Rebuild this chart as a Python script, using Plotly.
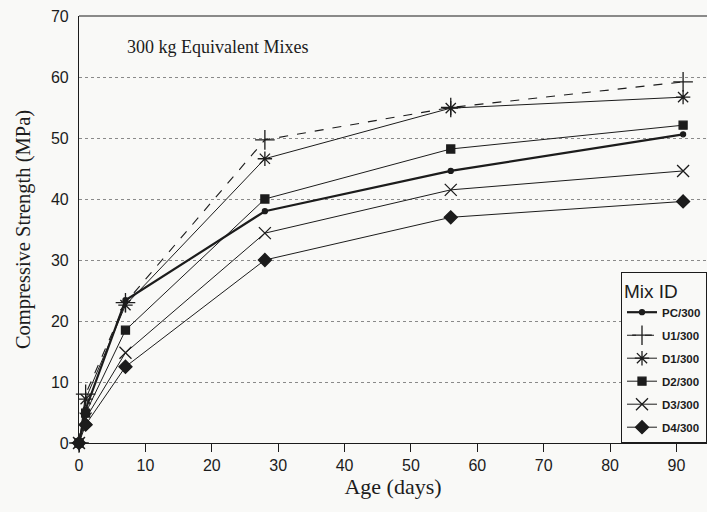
import plotly.graph_objects as go

age_days = [0, 1, 7, 28, 56, 91]
pc_300 = [0, 5.5, 23.4, 38.0, 44.6, 50.6]
u1_300 = [0, 8.0, 23.0, 49.7, 55.0, 59.2]
d1_300 = [0, 7.2, 22.6, 46.6, 54.9, 56.7]
d2_300 = [0, 4.9, 18.5, 40.0, 48.2, 52.1]
d3_300 = [0, 4.0, 14.8, 34.4, 41.5, 44.6]
d4_300 = [0, 3.0, 12.5, 30.0, 37.0, 39.6]

x_ticks = [0, 10, 20, 30, 40, 50, 60, 70, 80, 90]
y_ticks = [0, 10, 20, 30, 40, 50, 60, 70]

ink = "#1c1c1c"
series = [
    ("PC/300", pc_300, "circle", 5, "solid", 2.2),
    ("U1/300", u1_300, "cross-thin", 14, "dash", 1.1),
    ("D1/300", d1_300, "asterisk", 12, "solid", 1.0),
    ("D2/300", d2_300, "square", 8, "solid", 1.0),
    ("D3/300", d3_300, "x-thin", 12, "solid", 1.0),
    ("D4/300", d4_300, "diamond", 10, "solid", 1.0),
]

fig = go.Figure()
for name, vals, sym, size, dash, lw in series:
    fig.add_trace(go.Scatter(
        x=age_days, y=vals, name=name, mode="lines+markers",
        legendgroup=name,
        line=dict(color=ink, width=lw, dash=dash),
        marker=dict(symbol=sym, size=size, color=ink,
                    line=dict(color=ink, width=1.3)),
        cliponaxis=False,
    ))

fig.add_annotation(
    x=6.9, y=64.9, xref="x", yref="y", text="300 kg Equivalent Mixes",
    showarrow=False, xanchor="left", yanchor="middle",
    font=dict(family="Liberation Serif", size=18, color=ink),
)

fig.update_layout(
    width=707, height=512,
    margin=dict(l=79, r=0, t=16, b=69),
    paper_bgcolor="#f9f9f7", plot_bgcolor="#f9f9f7",
    showlegend=True,
    legend=dict(
        title=dict(text="Mix ID", font=dict(family="Liberation Sans", size=19, color=ink, weight="normal")),
        font=dict(family="Liberation Sans", size=11.5, color=ink, weight="bold"),
        x=1.0, xanchor="right", y=0.0, yanchor="bottom",
        bgcolor="#f9f9f7", bordercolor=ink, borderwidth=1,
        itemwidth=30, tracegroupgap=4, traceorder="grouped",
    ),
    xaxis=dict(
        range=[0, 94.6], tickvals=x_ticks, ticktext=[str(v) for v in x_ticks],
        showgrid=False, zeroline=False, showline=True, linecolor=ink, linewidth=1.2,
        ticks="outside", ticklen=8, tickcolor=ink, tickwidth=1.2,
        tickfont=dict(family="Liberation Sans", size=16, color=ink),
        title=dict(text="Age (days)", font=dict(family="Liberation Serif", size=22, color=ink), standoff=4),
        mirror=False,
    ),
    yaxis=dict(
        range=[0, 70], tickvals=y_ticks, ticktext=[str(v) for v in y_ticks],
        showgrid=True, gridcolor="#8a8a8a", griddash="dot", gridwidth=1.2,
        zeroline=False, showline=True, linecolor=ink, linewidth=1.2,
        ticks="", ticklabelstandoff=6,
        tickfont=dict(family="Liberation Sans", size=16, color=ink),
        title=dict(text="Compressive Strength (MPa)", font=dict(family="Liberation Serif", size=20.5, color=ink), standoff=14),
    ),
)
fig.add_shape(type="line", xref="paper", yref="paper", x0=0, x1=1, y0=1, y1=1,
              line=dict(color=ink, width=1.2))

fig.write_html("out.html")
